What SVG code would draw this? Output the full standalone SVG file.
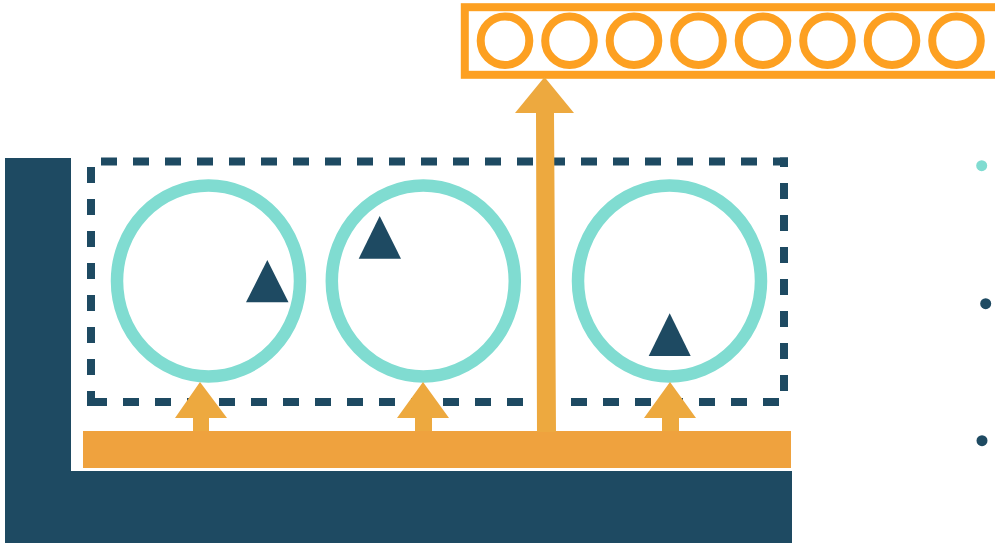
<svg xmlns="http://www.w3.org/2000/svg" width="995" height="544" viewBox="0 0 995 544">
<style>
.dark{fill:#1e4a62}
.ring{fill:none;stroke:#80dcd1;stroke-width:12.5}
.tri{fill:#1e4a62}
.arrow{fill:#eda93f}
.slot{fill:none;stroke:#fda021;stroke-width:8}
.frame{fill:none;stroke:#1e4a62;stroke-width:8;stroke-dasharray:16 16}
</style>
<rect width="995" height="544" fill="#ffffff"/>
<g id="base">
<path class="dark" d="M5 158 H71 V471 H792 V543 H5 Z"/>
</g>
<g id="bus">
<rect x="83" y="431" width="708" height="37" fill="#efa23e"/>
</g>
<g id="frame">
<line class="frame" x1="87" y1="161.5" x2="788" y2="161.5" stroke-dashoffset="18"/>
<line class="frame" x1="784" y1="157.5" x2="784" y2="406" stroke-dashoffset="6.5"/>
<line class="frame" x1="87" y1="402" x2="788" y2="402" stroke-dashoffset="28"/>
<line class="frame" x1="91" y1="157.5" x2="91" y2="406" stroke-dashoffset="22.5"/>
</g>
<g id="node1">
<ellipse class="ring" cx="208.5" cy="281" rx="91.5" ry="95.5"/>
<polygon class="tri" points="267.3,260 288.5,302.3 246,302.3"/>
</g>
<g id="node2">
<ellipse class="ring" cx="423.3" cy="281" rx="91.5" ry="95.5"/>
<polygon class="tri" points="379.7,216 401,258.7 358.7,258.7"/>
</g>
<g id="node3">
<ellipse class="ring" cx="669.5" cy="281" rx="91.5" ry="95.5"/>
<polygon class="tri" points="669.7,313.3 690.7,356 648.7,356"/>
</g>
<g id="output">
<rect class="slot" x="464.8" y="7.2" width="560" height="67.6"/>
<circle class="slot" cx="505" cy="40.7" r="24.3"/>
<circle class="slot" cx="569.5" cy="40.7" r="24.3"/>
<circle class="slot" cx="634" cy="40.7" r="24.3"/>
<circle class="slot" cx="698.5" cy="40.7" r="24.3"/>
<circle class="slot" cx="763" cy="40.7" r="24.3"/>
<circle class="slot" cx="827.5" cy="40.7" r="24.3"/>
<circle class="slot" cx="892" cy="40.7" r="24.3"/>
<circle class="slot" cx="956.5" cy="40.7" r="24.3"/>
</g>
<g id="connectors">
<polygon class="arrow" points="200,382 227,418 209,418 209,431 193,431 193,418 175,418"/>
<polygon class="arrow" points="423,382 449,418 432,418 432,431 415,431 415,418 397,418"/>
<polygon class="arrow" points="670,382 696,418 679,418 679,431 662,431 662,418 644,418"/>
<polygon class="arrow" points="544.5,77 574,113 554,113 556,432 537,432 536,113 515,113"/>
</g>
<g id="legend">
<circle cx="981.7" cy="165.7" r="5.5" fill="#80dcd1"/>
<circle cx="985.7" cy="303.7" r="5.5" fill="#1e4a62"/>
<circle cx="982" cy="440.7" r="5.5" fill="#1e4a62"/>
</g>
</svg>
